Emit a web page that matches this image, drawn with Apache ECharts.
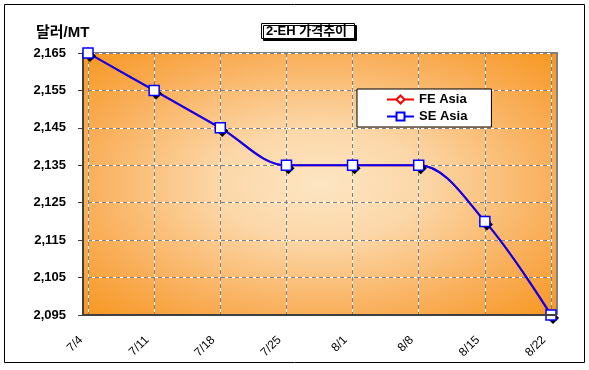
<!DOCTYPE html>
<html><head><meta charset="utf-8">
<script src="https://cdn.jsdelivr.net/npm/echarts@6/dist/echarts.min.js"></script>
<style>html,body{margin:0;padding:0;background:#fff}#c{width:589px;height:370px}</style>
</head><body><div id="c"></div>
<script>
const categories = ['7/4','7/11','7/18','7/25','8/1','8/8','8/15','8/22'];
const feAsia = [2165, 2155, 2145, 2135, 2135, 2135, 2120, 2095];
const seAsia = [2165, 2155, 2145, 2135, 2135, 2135, 2120, 2095];
const yMin = 2095, yMax = 2165, yStep = 10;

const FONT = '"Liberation Sans", Arial, "Noto Sans CJK KR", sans-serif';
const chart = echarts.init(document.getElementById('c'));
const PL = 83, PT = 53, PR = 557, PB = 315;
const PW = PR - PL, PH = PB - PT;
const yAxisBase = {type:'value', min:yMin, max:yMax, interval:yStep};
const xAxisBase = {type:'category', data:categories, boundaryGap:false};
chart.setOption({
  animation:false,
  backgroundColor:'#ffffff',
  title:[{
    text:'2-EH 가격추이', left:261, top:23,
    padding:[2,8,1,5],
    backgroundColor:'#ffffff', borderColor:'#000', borderWidth:1,
    shadowColor:'#000', shadowOffsetX:2, shadowOffsetY:2, shadowBlur:0,
    textStyle:{fontFamily:FONT, fontSize:13, fontWeight:'bold', color:'#000'}
  },{
    text:'달러/MT', left:31, top:20,
    textStyle:{fontFamily:FONT, fontSize:15, fontWeight:'bold', color:'#000'}
  }],
  legend:{
    orient:'vertical', left:357, top:89,
    padding:[4,24,4,29], itemGap:4,
    backgroundColor:'#fff', borderColor:'#000', borderWidth:1,
    itemWidth:27, itemHeight:10,
    textStyle:{fontFamily:FONT, fontSize:13, fontWeight:'bold', color:'#000'},
    data:['FE Asia','SE Asia']
  },
  grid:{left:88, right:38, top:PT, bottom:370-PB},
  graphic:[
    {type:'rect', z:-10, x:4.5, y:4.5, shape:{x:0,y:0,width:580,height:358}, style:{fill:'#fff', stroke:'#000', lineWidth:1}},
    {type:'rect', z:-9, x:PL, y:PT, scaleX:PW/PH, shape:{x:0,y:0,width:PH,height:PH},
      style:{fill:{type:'radial', x:0.5, y:0.5, r:0.72, colorStops:[
        {offset:0, color:'#FDE6C3'},{offset:0.3, color:'#FCD7A8'},{offset:0.7, color:'#F9AE58'},{offset:1, color:'#F7951D'}]}}},
    {type:'polyline', z:-8, shape:{points:[[PL,PT],[PR,PT],[PR,PB]]}, style:{stroke:'#808080', lineWidth:2, fill:null}},
    {type:'line', z:10, shape:{x1:PL,y1:PB,x2:PR,y2:PB}, style:{stroke:'#404040', lineWidth:2}}
  ],
  xAxis:[
    Object.assign({}, xAxisBase, {
      axisLine:{show:false}, axisTick:{show:false},
      axisLabel:{rotate:45, margin:16, padding:[0,10,0,0], fontFamily:FONT, fontSize:12, color:'#000'},
      splitLine:{show:true, lineStyle:{color:'#ffffff', width:1}}
    }),
    Object.assign({}, xAxisBase, {
      position:'bottom', axisLine:{show:false}, axisTick:{show:false}, axisLabel:{show:false},
      splitLine:{show:true, lineStyle:{color:'#808080', width:1, type:[4,3]}}
    })
  ],
  yAxis:[
    Object.assign({}, yAxisBase, {
      offset:5,
      axisLine:{show:true, lineStyle:{color:'#404040', width:2}},
      axisTick:{show:true, length:5, inside:false, lineStyle:{color:'#404040'}},
      axisLabel:{margin:17, fontFamily:FONT, fontSize:13, fontWeight:'bold', color:'#000',
        formatter:v=>v.toLocaleString('en-US')},
      splitLine:{show:true, lineStyle:{color:'#ffffff', width:1}}
    }),
    Object.assign({}, yAxisBase, {
      position:'left', axisLine:{show:false}, axisTick:{show:false}, axisLabel:{show:false},
      splitLine:{show:true, lineStyle:{color:'#808080', width:1, type:[4,3]}}
    })
  ],
  series:[
    {name:'FE Asia', type:'line', data:feAsia, smooth:0.35, symbol:'diamond', symbolSize:10,
      lineStyle:{color:'#ff0000', width:2},
      itemStyle:{color:'#ffffff', borderColor:'#ff0000', borderWidth:1.5,
        shadowColor:'#000', shadowOffsetX:2, shadowOffsetY:3, shadowBlur:0}},
    {name:'SE Asia', type:'line', data:seAsia, smooth:0.35, symbol:'rect', symbolSize:10,
      lineStyle:{color:'#0000ff', width:2},
      itemStyle:{color:'#ffffff', borderColor:'#0000ff', borderWidth:1.5}}
  ]
});
</script></body></html>
